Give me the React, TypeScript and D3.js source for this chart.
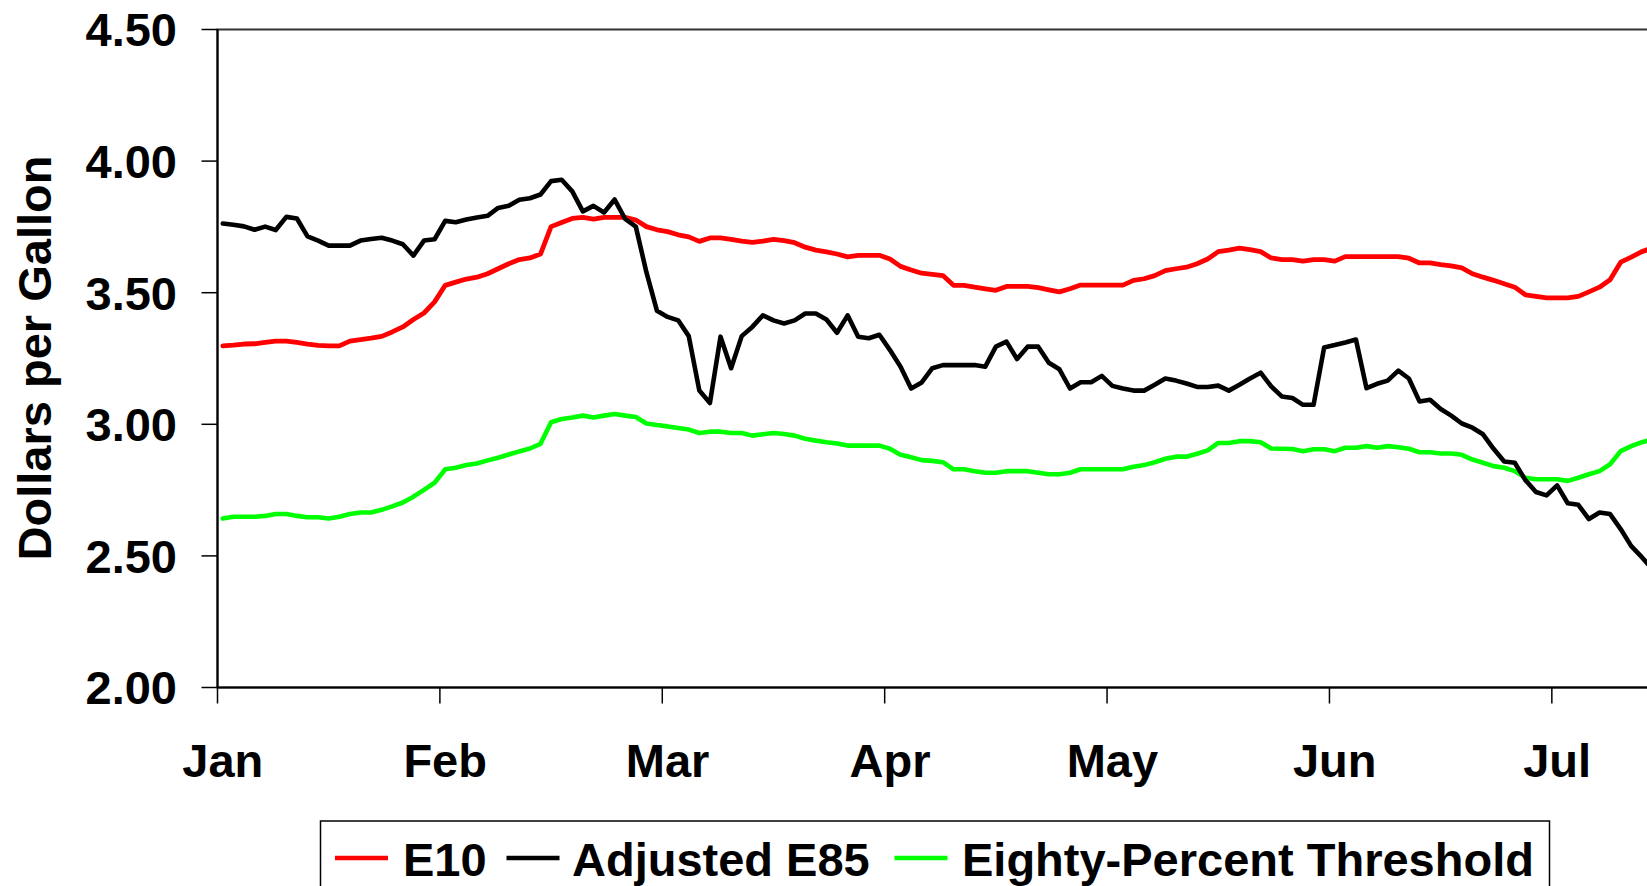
import React from "react";
import * as d3 from "d3";

// ---- data (one value per trading day, Jan through mid-July) ----
const monthLabels = ["Jan", "Feb", "Mar", "Apr", "May", "Jun", "Jul"];
const monthStartIndex = [0, 21, 42, 63, 84, 105, 126];
const yTicks = [2.0, 2.5, 3.0, 3.5, 4.0, 4.5];

const e10 = [
  3.298, 3.301, 3.305, 3.306, 3.311, 3.316, 3.316, 3.311, 3.305, 3.300,
  3.298, 3.298, 3.316, 3.322, 3.327, 3.334, 3.351, 3.370, 3.398, 3.423,
  3.465, 3.528, 3.540, 3.552, 3.559, 3.572, 3.591, 3.610, 3.626, 3.632,
  3.647, 3.751, 3.767, 3.782, 3.786, 3.780, 3.786, 3.786, 3.786, 3.776,
  3.751, 3.739, 3.732, 3.720, 3.712, 3.695, 3.708, 3.708, 3.703, 3.696,
  3.691, 3.696, 3.703, 3.698, 3.690, 3.673, 3.662, 3.655, 3.647, 3.636,
  3.642, 3.642, 3.642, 3.628, 3.600, 3.586, 3.574, 3.570, 3.565, 3.528,
  3.528, 3.521, 3.515, 3.509, 3.524, 3.524, 3.524, 3.519, 3.511, 3.503,
  3.515, 3.529, 3.529, 3.529, 3.529, 3.529, 3.547, 3.553, 3.565, 3.584,
  3.591, 3.597, 3.610, 3.628, 3.656, 3.662, 3.669, 3.664, 3.656, 3.632,
  3.626, 3.626, 3.620, 3.626, 3.626, 3.620, 3.637, 3.637, 3.637, 3.637,
  3.637, 3.637, 3.631, 3.613, 3.613, 3.607, 3.602, 3.594, 3.572, 3.559,
  3.547, 3.534, 3.521, 3.492, 3.486, 3.480, 3.480, 3.480, 3.486, 3.503,
  3.521, 3.549, 3.616, 3.635, 3.656, 3.670,
];

const adjustedE85 = [
  3.763, 3.758, 3.752, 3.739, 3.751, 3.738, 3.788, 3.782, 3.714, 3.698,
  3.679, 3.679, 3.679, 3.698, 3.704, 3.709, 3.698, 3.684, 3.641, 3.698,
  3.703, 3.773, 3.768, 3.778, 3.786, 3.792, 3.822, 3.830, 3.853, 3.859,
  3.873, 3.924, 3.929, 3.885, 3.809, 3.830, 3.805, 3.854, 3.780, 3.751,
  3.578, 3.431, 3.408, 3.395, 3.335, 3.128, 3.081, 3.333, 3.213, 3.335,
  3.370, 3.414, 3.395, 3.383, 3.395, 3.421, 3.421, 3.398, 3.348, 3.414,
  3.333, 3.327, 3.340, 3.282, 3.219, 3.136, 3.159, 3.213, 3.225, 3.225,
  3.225, 3.225, 3.219, 3.295, 3.314, 3.248, 3.295, 3.295, 3.234, 3.209,
  3.136, 3.160, 3.160, 3.184, 3.146, 3.136, 3.128, 3.128, 3.150, 3.174,
  3.166, 3.155, 3.142, 3.142, 3.147, 3.128, 3.150, 3.174, 3.196, 3.144,
  3.106, 3.100, 3.074, 3.074, 3.292, 3.301, 3.311, 3.322, 3.137, 3.154,
  3.166, 3.204, 3.174, 3.087, 3.093, 3.058, 3.033, 3.003, 2.987, 2.962,
  2.907, 2.859, 2.854, 2.788, 2.743, 2.730, 2.768, 2.700, 2.694, 2.640,
  2.665, 2.659, 2.602, 2.537, 2.495, 2.450,
];

const threshold = [
  2.642, 2.649, 2.649, 2.649, 2.652, 2.659, 2.659, 2.652, 2.647, 2.647,
  2.642, 2.649, 2.659, 2.665, 2.665, 2.675, 2.688, 2.703, 2.725, 2.751,
  2.778, 2.829, 2.835, 2.845, 2.851, 2.863, 2.873, 2.885, 2.897, 2.908,
  2.926, 3.008, 3.020, 3.026, 3.033, 3.026, 3.033, 3.039, 3.033, 3.028,
  3.003, 2.997, 2.992, 2.986, 2.980, 2.967, 2.972, 2.972, 2.967, 2.967,
  2.957, 2.962, 2.967, 2.963, 2.957, 2.945, 2.938, 2.932, 2.927, 2.919,
  2.919, 2.919, 2.919, 2.907, 2.884, 2.875, 2.864, 2.861, 2.856, 2.829,
  2.829, 2.822, 2.816, 2.816, 2.822, 2.822, 2.822, 2.816, 2.810, 2.810,
  2.816, 2.829, 2.829, 2.829, 2.829, 2.829, 2.839, 2.845, 2.856, 2.869,
  2.877, 2.877, 2.888, 2.901, 2.929, 2.929, 2.936, 2.936, 2.932, 2.908,
  2.907, 2.906, 2.898, 2.905, 2.905, 2.898, 2.911, 2.911, 2.917, 2.911,
  2.917, 2.913, 2.907, 2.894, 2.894, 2.889, 2.889, 2.884, 2.866, 2.854,
  2.841, 2.835, 2.822, 2.797, 2.791, 2.791, 2.791, 2.785, 2.797, 2.810,
  2.822, 2.848, 2.898, 2.917, 2.932, 2.942,
];

const seriesNames = ["E10", "Adjusted E85", "Eighty-Percent Threshold"];
const seriesColors = ["#FF0000", "#000000", "#00FF00"];

// ---- layout ----
const W = 1647;
const H = 886;
const PLOT_LEFT = 217.5;
const CAT_W = 10.59;
const TOTAL_CATS = 147;
const FONT = "'Liberation Sans', Arial, Helvetica, sans-serif";
const FS = 47;

export default function App() {
  const x = d3
    .scaleLinear()
    .domain([0, TOTAL_CATS])
    .range([PLOT_LEFT, PLOT_LEFT + TOTAL_CATS * CAT_W]);
  const y = d3.scaleLinear().domain([2, 4.5]).range([687.5, 29.5]);

  const line = d3
    .line<number>()
    .x((_, i) => x(i + 0.5))
    .y((d) => y(d));

  const series = [e10, adjustedE85, threshold];
  const widths = [4.8, 4.6, 4.6];
  const drawOrder = [0, 2, 1];

  const legendItems = [
    { sx: 335, tx: 403 },
    { sx: 506.5, tx: 572 },
    { sx: 894.5, tx: 962 },
  ];

  const plotRight = x(TOTAL_CATS);

  return (
    <svg
      width={W}
      height={H}
      style={{ position: "absolute", left: 0, top: 0, background: "#fff" }}
      fontFamily={FONT}
      fontWeight="bold"
    >
      <rect x={0} y={0} width={W} height={H} fill="#fff" />
      <rect
        x={PLOT_LEFT}
        y={y(4.5)}
        width={plotRight - PLOT_LEFT}
        height={y(2) - y(4.5)}
        fill="none"
        stroke="#333"
        strokeWidth={2}
      />
      <line x1={PLOT_LEFT} x2={PLOT_LEFT} y1={y(4.5)} y2={y(2)} stroke="#000" strokeWidth={2} />
      {yTicks.map((t) => (
        <g key={t}>
          <line x1={PLOT_LEFT - 16} x2={PLOT_LEFT} y1={y(t)} y2={y(t)} stroke="#000" strokeWidth={1.5} />
          <text x={177} y={y(t) + 16.8} textAnchor="end" fontSize={FS} fill="#000">
            {t.toFixed(2)}
          </text>
        </g>
      ))}
      <line x1={PLOT_LEFT} x2={plotRight} y1={y(2)} y2={y(2)} stroke="#000" strokeWidth={2} />
      {monthStartIndex.map((m, k) => (
        <g key={m}>
          <line x1={x(m)} x2={x(m)} y1={y(2)} y2={y(2) + 16} stroke="#000" strokeWidth={1.5} />
          <text x={x(m + 0.5)} y={777} textAnchor="middle" fontSize={FS} fill="#000">
            {monthLabels[k]}
          </text>
        </g>
      ))}
      <text
        transform={`translate(51,358) rotate(-90)`}
        textAnchor="middle"
        fontSize={FS}
        fill="#000"
      >
        Dollars per Gallon
      </text>
      {drawOrder.map((s) => (
        <path
          key={s}
          d={line(series[s]) || ""}
          fill="none"
          stroke={seriesColors[s]}
          strokeWidth={widths[s]}
          strokeLinejoin="round"
          strokeLinecap="round"
        />
      ))}
      <rect x={320.5} y={821} width={1229} height={90} fill="#fff" stroke="#000" strokeWidth={1.5} />
      {legendItems.map((it, k) => (
        <g key={k}>
          <line
            x1={it.sx}
            x2={it.sx + 53}
            y1={858}
            y2={858}
            stroke={seriesColors[k]}
            strokeWidth={4.5}
          />
          <text x={it.tx} y={876} fontSize={FS} fill="#000">
            {seriesNames[k]}
          </text>
        </g>
      ))}
    </svg>
  );
}
